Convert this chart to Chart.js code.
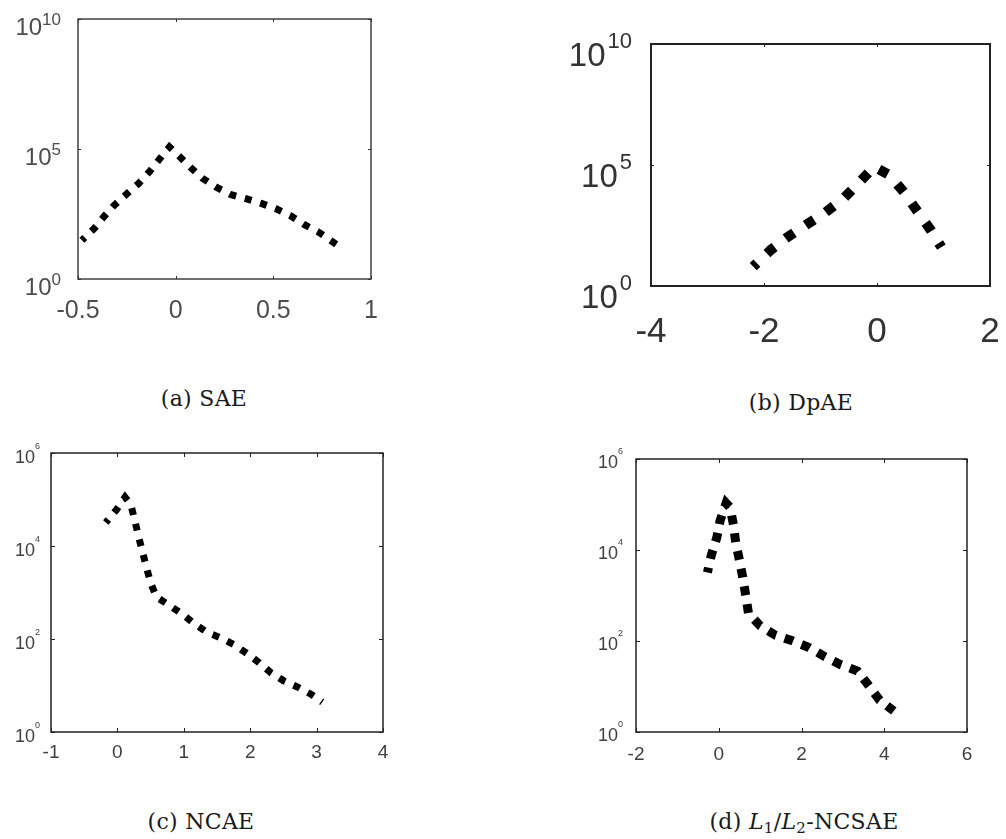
<!DOCTYPE html>
<html>
<head>
<meta charset="utf-8">
<script src="https://cdn.jsdelivr.net/npm/chart.js@4.4.1/dist/chart.umd.min.js"></script>
<style>
  html, body { margin:0; padding:0; background:#fff; }
  body { width:1006px; height:839px; position:relative; overflow:hidden; }
  canvas { position:absolute; }
  .cap { position:absolute; font-family:'DejaVu Serif', 'Liberation Serif', serif; font-size:22px; letter-spacing:0.3px; color:#1a1a1a; transform:translateX(-50%); white-space:nowrap; line-height:24px; }
  .cap sub { font-size:15px; vertical-align:-4px; line-height:0; }
</style>
</head>
<body>
<canvas id="cA" width="400" height="330" style="left:0;top:0"></canvas>
<canvas id="cB" width="506" height="360" style="left:500px;top:0"></canvas>
<canvas id="cC" width="420" height="340" style="left:0;top:430px"></canvas>
<canvas id="cD" width="506" height="340" style="left:500px;top:430px"></canvas>

<div class="cap" style="left:204px;top:387px">(a) SAE</div>
<div class="cap" style="left:801px;top:391px">(b) DpAE</div>
<div class="cap" style="left:201px;top:810px">(c) NCAE</div>
<div class="cap" style="left:804px;top:810px">(d) <i>L</i><sub>1</sub>/<i>L</i><sub>2</sub>-NCSAE</div>

<script>
// ── data ───────────────────────────────────────────────────────
const aX = [-0.48,-0.42,-0.366,-0.314,-0.253,-0.193,-0.135,-0.084,-0.032,0.02,0.078,0.136,0.208,0.28,0.36,0.438,0.514,0.591,0.659,0.734,0.8,0.858];
const aY = [31,83,256,690,1790,4460,13200,39800,120000,51300,19000,7590,3390,1780,1230,810,500,263,123,62,28,14];
const aXTicks = [-0.5,0,0.5,1];
const aYTicks = [1,1e5,1e10];

const bX = [-2.19,-1.88,-1.59,-1.26,-0.92,-0.6,-0.33,-0.05,0.22,0.48,0.71,0.95,1.14];
const bY = [6.3,31,102,331,1070,3950,17400,85000,38500,7400,1260,206,40];
const bXTicks = [-4,-2,0,2];
const bYTicks = [1,1e5,1e10];

const cX = [-0.175,-0.015,0.115,0.2,0.26,0.315,0.375,0.435,0.5,0.585,0.775,0.975,1.16,1.355,1.555,1.76,1.95,2.135,2.315,2.505,2.71,2.915,3.085];
const cY = [31900,60000,112000,79000,36500,16700,7800,3600,1630,810,536,345,213,138,106,75,49,31,18.7,12.6,9.3,6.5,4.4];
const cXTicks = [-1,0,1,2,3,4];
const cYTicks = [1,1e2,1e4,1e6];

const dX = [-0.274,-0.185,-0.048,0.032,0.177,0.274,0.355,0.41,0.5,0.58,0.653,0.718,1.0,1.37,1.78,2.18,2.57,2.95,3.35,3.62,3.89,4.23];
const dY = [3200,7400,18700,44000,107000,86000,35800,14600,6000,2500,995,406,216,134,101,72,45,30,22,10.6,5.0,2.9];
const dXTicks = [-2,0,2,4,6];
const dYTicks = [1,1e2,1e4,1e6];

const SANS = '"Liberation Sans", Arial, sans-serif';

// MATLAB-like frame: box, inward ticks, 10^n labels
function frame(o) {
    return {
        id: 'frame',
        afterDatasetsDraw(chart) {
            const { ctx, chartArea: a, scales: { x, y } } = chart;
            ctx.save();
            ctx.strokeStyle = o.box; ctx.lineWidth = o.boxW;
            ctx.strokeRect(a.left, a.top, a.right - a.left, a.bottom - a.top);
            ctx.beginPath();
            x.ticks.forEach(t => {
                const px = Math.round(x.getPixelForValue(t.value)) + 0.5;
                ctx.moveTo(px, a.bottom); ctx.lineTo(px, a.bottom - o.tick);
                ctx.moveTo(px, a.top); ctx.lineTo(px, a.top + o.tick);
            });
            y.ticks.forEach(t => {
                const py = Math.round(y.getPixelForValue(t.value)) + 0.5;
                ctx.moveTo(a.left, py); ctx.lineTo(a.left + o.tick, py);
                ctx.moveTo(a.right, py); ctx.lineTo(a.right - o.tick, py);
            });
            ctx.lineWidth = 1; ctx.stroke();

            ctx.fillStyle = o.text;
            ctx.textBaseline = 'alphabetic';
            ctx.textAlign = 'center';
            ctx.font = o.xFont + 'px ' + SANS;
            x.ticks.forEach(t => ctx.fillText(String(t.value), x.getPixelForValue(t.value), a.bottom + o.xOff));

            ctx.textAlign = 'right';
            y.ticks.forEach(t => {
                const py = y.getPixelForValue(t.value);
                const e = String(Math.round(Math.log10(t.value)));
                const r = a.left - o.yGap;
                ctx.font = o.eFont + 'px ' + SANS;
                const ew = ctx.measureText(e).width;
                ctx.fillText(e, r, py + o.yOff - o.eRaise);
                ctx.font = o.yFont + 'px ' + SANS;
                ctx.fillText('10', r - ew - o.eGap, py + o.yOff);
            });
            ctx.restore();
        }
    };
}

function makeChart(id, xs, ys, xt, yt, xmin, xmax, ymax, lay, line, o) {
    new Chart(document.getElementById(id), {
        type: 'line',
        data: { datasets: [{
            data: xs.map((v, i) => ({ x: v, y: ys[i] })),
            borderColor: '#000', borderWidth: line.w, borderDash: line.dash, borderDashOffset: line.off,
            pointRadius: 0, fill: false, tension: 0
        }] },
        options: {
            responsive: false, animation: false, devicePixelRatio: 1,
            layout: { padding: { top: lay.top, right: lay.right, left: 0, bottom: 0 } },
            plugins: { legend: { display: false }, tooltip: { enabled: false } },
            scales: {
                x: { type: 'linear', min: xmin, max: xmax, grid: { display: false }, border: { display: false },
                     ticks: { display: false }, afterBuildTicks: s => { s.ticks = xt.map(v => ({ value: v })); },
                     afterFit: s => { s.height = lay.bottom; } },
                y: { type: 'logarithmic', min: 1, max: ymax, grid: { display: false }, border: { display: false },
                     ticks: { display: false }, afterBuildTicks: s => { s.ticks = yt.map(v => ({ value: v })); },
                     afterFit: s => { s.width = lay.left; } }
            }
        },
        plugins: [frame(o)]
    });
}

// (a) SAE
makeChart('cA', aX, aY, aXTicks, aYTicks, -0.5, 1, 1e10,
    { left: 78, top: 19, right: 29, bottom: 51 },
    { w: 7, dash: [7, 9], off: 3 },
    { box: '#333', boxW: 1.4, tick: 3, text: '#4d4d4d', xFont: 25, xOff: 39, yFont: 24, eFont: 17, eRaise: 10, eGap: 0, yGap: 17, yOff: 16 });

// (b) DpAE
makeChart('cB', bX, bY, bXTicks, bYTicks, -4, 2, 1e10,
    { left: 151, top: 44, right: 16, bottom: 74 },
    { w: 10, dash: [10, 14], off: 5 },
    { box: '#222', boxW: 2, tick: 3, text: '#333', xFont: 35, xOff: 56, yFont: 33, eFont: 22, eRaise: 18, eGap: 2, yGap: 19, yOff: 22 });

// (c) NCAE
makeChart('cC', cX, cY, cXTicks, cYTicks, -1, 4, 1e6,
    { left: 51, top: 23, right: 37, bottom: 38 },
    { w: 7, dash: [7, 9], off: 3 },
    { box: '#222', boxW: 1.5, tick: 4, text: '#404040', xFont: 19, xOff: 26, yFont: 18, eFont: 9, eRaise: 14, eGap: 0, yGap: 11, yOff: 10 });

// (d) L1/L2-NCSAE
makeChart('cD', dX, dY, dXTicks, dYTicks, -2, 6, 1e6,
    { left: 136, top: 29, right: 39, bottom: 38 },
    { w: 9, dash: [9, 9], off: 4 },
    { box: '#222', boxW: 1.5, tick: 4, text: '#404040', xFont: 19, xOff: 28, yFont: 18, eFont: 9, eRaise: 14, eGap: 0, yGap: 13, yOff: 9 });
</script>
</body>
</html>
